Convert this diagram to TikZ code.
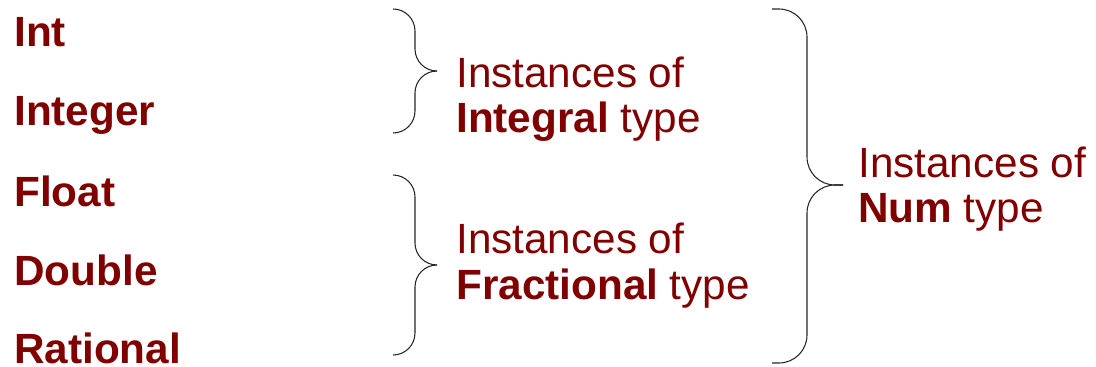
\documentclass[tikz,border=0pt]{standalone}
\usepackage{fontspec}
\setmainfont{Liberation Sans}
\usepackage{xcolor}
\usepackage{tikz}
\usetikzlibrary{positioning}

\definecolor{typered}{HTML}{800000}

\begin{document}
\begin{tikzpicture}[
    x=0.75pt, y=-0.75pt,
    every node/.style={inner sep=0pt, text=typered, font=\fontsize{31.7}{34}\selectfont},
    tname/.style={anchor=base west, font=\fontsize{31.7}{34}\selectfont\bfseries},
    group/.style={anchor=base west, align=left},
    brace/.style={draw=black!85, line width=0.8pt, rounded corners=16.5pt},
    bigbrace/.style={brace, rounded corners=21pt},
]
\useasboundingbox (0,0) rectangle (1096,367);

% type names
\node[tname] (int)      at (14,47)  {Int};
\node[tname] (integer)  at (14,126) {Integer};
\node[tname] (float)    at (14,206) {Float};
\node[tname] (double)   at (14,285) {Double};
\node[tname] (rational) at (14,363) {Rational};

% Integral
\draw[brace] (393,9) -- (415,9) -- (415,71) -- (437,71);
\draw[brace] (437,71) -- (415,71) -- (415,133) -- (393,133);
\node[group] (integral) at (456,133) {Instances of\\\textbf{Integral} type};

% Fractional
\draw[brace] (393,175) -- (415,175) -- (415,265) -- (437,265);
\draw[brace] (437,265) -- (415,265) -- (415,355) -- (393,355);
\node[group] (fractional) at (456,299) {Instances of\\\textbf{Fractional} type};

% Num
\draw[bigbrace] (772,9) -- (807,9) -- (807,185) -- (843,185);
\draw[bigbrace] (843,185) -- (807,185) -- (807,363) -- (772,363);
\node[group] (num) at (858,223) {Instances of\\\textbf{Num} type};

\end{tikzpicture}
\end{document}
